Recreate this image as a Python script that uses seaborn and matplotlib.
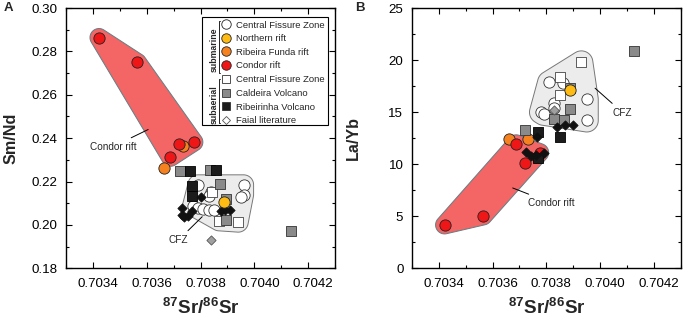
import numpy as np
import matplotlib
matplotlib.use('Agg')
import matplotlib.pyplot as plt
import seaborn as sns
from matplotlib.patches import Polygon, Rectangle
from matplotlib.lines import Line2D
from matplotlib.ticker import MultipleLocator, FormatStrFormatter
from matplotlib.transforms import ScaledTranslation

sns.set_style('ticks')
plt.rcParams['font.family'] = ['Liberation Sans', 'DejaVu Sans']
plt.rcParams['mathtext.fontset'] = 'custom'
plt.rcParams['mathtext.bf'] = 'Liberation Sans:bold'
plt.rcParams['mathtext.rm'] = 'Liberation Sans'

# ---- data ----
# submarine
red_x = [0.703422, 0.703565, 0.703688, 0.703721, 0.703775]
red_smnd = [0.2864, 0.2749, 0.2312, 0.2371, 0.2382]
red_layb = [4.17, 5.03, 11.96, 10.16, 11.12]

orange_x = [0.703663, 0.703733]
orange_smnd = [0.2263, 0.2364]
orange_layb = [12.4, 12.4]

yellow_x = [0.703886]
yellow_smnd = [0.2104]
yellow_layb = [17.15]

cfz_circ_x_a = [0.70379, 0.70396, 0.70396, 0.70395, 0.70384, 0.70383, 0.70377, 0.70379, 0.70381, 0.70383, 0.70385]
cfz_circ_smnd = [0.2185, 0.2185, 0.2140, 0.2130, 0.2150, 0.2135, 0.2088, 0.2078, 0.2072, 0.2070, 0.2070]
cfz_circ_x_b = [0.70381, 0.70386, 0.70383, 0.70378, 0.70379, 0.70395, 0.70395, 0.70383]
cfz_circ_layb = [17.85, 17.79, 15.87, 15.0, 14.84, 16.25, 14.2, 15.4]

# subaerial
cfz_sq_x_a = [0.703844, 0.703869, 0.703940]
cfz_sq_smnd = [0.2154, 0.2019, 0.2013]
cfz_sq_x_b = [0.70393, 0.70385, 0.70385]
cfz_sq_layb = [19.78, 18.33, 16.67]

cald_x_a = [0.703725, 0.703834, 0.703871, 0.703896, 0.703894, 0.704138]
cald_smnd = [0.2247, 0.2252, 0.2190, 0.2121, 0.2024, 0.1973]
cald_x_b = [0.703719, 0.703828, 0.703864, 0.703889, 0.704125, 0.703889]
cald_layb = [13.24, 14.39, 14.26, 15.32, 20.9, 17.3]

ribe_x_a = [0.703759, 0.703859, 0.703769, 0.703769]
ribe_smnd = [0.2251, 0.2252, 0.2181, 0.2132]
ribe_x_b = [0.70377, 0.703852, 0.70377]
ribe_layb = [13.14, 12.66, 10.58]

lit_x_a = [0.703731, 0.703731, 0.703740, 0.703752, 0.703769, 0.703800, 0.703875, 0.703891, 0.703910]
lit_smnd = [0.2080, 0.2046, 0.2036, 0.2042, 0.2065, 0.2128, 0.2066, 0.2070, 0.2070]
lit_x_b = [0.70384, 0.70387, 0.70390, 0.703764, 0.703726, 0.703742, 0.70376, 0.703791]
lit_layb = [13.53, 13.8, 13.8, 12.6, 11.2, 10.8, 10.9, 11.1]
litg_x_a = [0.703838]
litg_smnd = [0.1931]
litg_x_b = [0.70383]
litg_layb = [15.2]

RED = '#ee1616'
ORANGE = '#f5821f'
YELLOW = '#fdbb13'
GRAY = '#8a8a8a'
BLACK = '#1c1c1c'


def hull(pts):
    pts = sorted(map(tuple, pts))
    def cross(o, a, b):
        return (a[0] - o[0]) * (b[1] - o[1]) - (a[1] - o[1]) * (b[0] - o[0])
    lower, upper = [], []
    for p in pts:
        while len(lower) >= 2 and cross(lower[-2], lower[-1], p) <= 0:
            lower.pop()
        lower.append(p)
    for p in reversed(pts):
        while len(upper) >= 2 and cross(upper[-2], upper[-1], p) <= 0:
            upper.pop()
        upper.append(p)
    return np.array(lower[:-1] + upper[:-1])


def blob(ax, xs, ys, pad, fc, ec):
    # rounded envelope round a group of points, padded in inches
    fig = ax.figure
    pos = ax.get_position()
    W = pos.width * fig.get_figwidth()
    H = pos.height * fig.get_figheight()
    x0, x1 = ax.get_xlim()
    y0, y1 = ax.get_ylim()
    u = (np.asarray(xs) - x0) / (x1 - x0) * W
    v = (np.asarray(ys) - y0) / (y1 - y0) * H
    t = np.linspace(0, 2 * np.pi, 60, endpoint=False)
    pu = (u[:, None] + pad * np.cos(t)).ravel()
    pv = (v[:, None] + pad * np.sin(t)).ravel()
    h = hull(np.column_stack([pu, pv]))
    hx = x0 + h[:, 0] / W * (x1 - x0)
    hy = y0 + h[:, 1] / H * (y1 - y0)
    ax.add_patch(Polygon(np.column_stack([hx, hy]), closed=True, fc=fc, ec=ec, lw=0.7, zorder=1))


def settings_plot(ax):
    ax.set_xlim(0.7033, 0.7043)
    ax.xaxis.set_major_locator(MultipleLocator(0.0002))
    ax.xaxis.set_minor_locator(MultipleLocator(0.0001))
    ax.xaxis.set_major_formatter(FormatStrFormatter('%.4f'))
    ax.tick_params(which='both', direction='in', top=True, right=True, width=0.8, colors='k')
    ax.tick_params(which='major', length=4, labelsize=9.6)
    ax.tick_params(which='minor', length=2.5)
    ax.tick_params(axis='x', which='major', pad=7)
    ax.tick_params(axis='y', which='major', pad=6)
    for s in ax.spines.values():
        s.set_linewidth(1.0)
        s.set_color('k')
    ax.set_xlabel(r'$^{\mathbf{87}}\mathbf{Sr/}^{\mathbf{86}}\mathbf{Sr}$', fontsize=13.6)
    ax.xaxis.set_label_coords(0.5, -0.112)
    return ax


def pts(ax, x, y, marker, s, fc, ec, z):
    sns.scatterplot(x=x, y=y, marker=marker, s=s, color=fc, edgecolor=ec,
                    linewidth=0.6, zorder=z, legend=False, ax=ax)


def draw_points(ax, d):
    pts(ax, d['circ'][0], d['circ'][1], 'o', 66, 'white', '#333333', 3)
    pts(ax, orange_x, d['orange'], 'o', 66, ORANGE, '#222222', 4)
    pts(ax, red_x, d['red'], 'o', 66, RED, '#222222', 5)
    pts(ax, d['sq'][0], d['sq'][1], 's', 62, 'white', '#444444', 6)
    pts(ax, d['cald'][0], d['cald'][1], 's', 62, GRAY, '#333333', 7)
    pts(ax, d['ribe'][0], d['ribe'][1], 's', 62, BLACK, '#000000', 8)
    pts(ax, d['lit'][0], d['lit'][1], 'D', 22, '#111111', '#111111', 9)
    pts(ax, d['litg'][0], d['litg'][1], 'D', 22, '#a0a0a0', '#555555', 9)
    pts(ax, yellow_x, d['yellow'], 'o', 66, YELLOW, '#222222', 10)


fig = plt.figure(facecolor='white', figsize=(6.86, 3.21), dpi=100)
axA = fig.add_axes([0.0965, 0.164, 0.3918, 0.811])
axB = fig.add_axes([0.6002, 0.164, 0.3925, 0.811])

# ---------- panel A ----------
ax = settings_plot(axA)
ax.set_ylim(0.18, 0.30)
ax.yaxis.set_major_locator(MultipleLocator(0.02))
ax.yaxis.set_minor_locator(MultipleLocator(0.01))
ax.yaxis.set_major_formatter(FormatStrFormatter('%.2f'))
blob(ax, red_x, red_smnd, 0.09, '#f46565', '#5f7f85')
blob(ax, cfz_circ_x_a + cfz_sq_x_a, cfz_circ_smnd + cfz_sq_smnd, 0.1, '#ececec', '#777777')
draw_points(ax, {'circ': (cfz_circ_x_a, cfz_circ_smnd), 'orange': orange_smnd, 'red': red_smnd,
                 'sq': (cfz_sq_x_a, cfz_sq_smnd), 'cald': (cald_x_a, cald_smnd),
                 'ribe': (ribe_x_a, ribe_smnd), 'lit': (lit_x_a, lit_smnd),
                 'litg': (litg_x_a, litg_smnd), 'yellow': yellow_smnd})
ax.set_ylabel('Sm/Nd', fontsize=11.6, fontweight='bold')
ax.yaxis.set_label_coords(-0.178, 0.5)
ax.annotate('Condor rift', xy=(0.703605, 0.2440), xytext=(0.703474, 0.2361),
            ha='center', va='center', fontsize=7.2,
            arrowprops=dict(arrowstyle='-', lw=0.7, color='k', shrinkA=1, shrinkB=0))
ax.annotate('CFZ', xy=(0.703806, 0.2038), xytext=(0.703718, 0.1931),
            ha='center', va='center', fontsize=7.2,
            arrowprops=dict(arrowstyle='-', lw=0.7, color='k', shrinkA=1, shrinkB=0))

# legend (two groups with brackets)
ax.add_patch(Rectangle((0.504, 0.5505), 0.4706, 0.4138, transform=ax.transAxes,
                       fc='white', ec='k', lw=0.8, zorder=20))
h_sub = [Line2D([], [], ls='none', marker='o', ms=6.8, mfc=c, mec='#222222', mew=0.6)
         for c in ['white', YELLOW, ORANGE, RED]]
h_air = [Line2D([], [], ls='none', marker='s', ms=6.2, mfc=c, mec='#333333', mew=0.6)
         for c in ['white', GRAY, BLACK]]
h_air.append(Line2D([], [], ls='none', marker='D', ms=4.2, mfc='white', mec='#555555', mew=0.6))
leg_kw = dict(loc='upper left', frameon=False, fontsize=6.8, borderpad=0, borderaxespad=0,
              handlelength=1.0, handletextpad=0.6, labelspacing=0.48)
leg1 = ax.legend(h_sub, ['Central Fissure Zone', 'Northern rift', 'Ribeira Funda rift', 'Condor rift'],
                 bbox_to_anchor=(0.576, 0.952), **leg_kw)
leg1.set_zorder(21)
ax.add_artist(leg1)
leg2 = ax.legend(h_air, ['Central Fissure Zone', 'Caldeira Volcano', 'Ribeirinha Volcano', 'Faial literature'],
                 bbox_to_anchor=(0.576, 0.741), **leg_kw)
leg2.set_zorder(21)
ax.text(0.551, 0.838, 'submarine', rotation=90, ha='center', va='center', fontsize=6.3,
        fontweight='bold', transform=ax.transAxes, zorder=22)
ax.text(0.551, 0.628, 'subaerial', rotation=90, ha='center', va='center', fontsize=6.3,
        fontweight='bold', transform=ax.transAxes, zorder=22)
for yt, yb in [(0.950, 0.752), (0.728, 0.557)]:
    ax.plot([0.574, 0.567, 0.567, 0.574], [yt, yt, yb, yb], color='k', lw=0.6,
            transform=ax.transAxes, zorder=22, clip_on=False)

# ---------- panel B ----------
ax = settings_plot(axB)
ax.set_ylim(0, 25)
ax.yaxis.set_major_locator(MultipleLocator(5))
ax.yaxis.set_minor_locator(MultipleLocator(2.5))
ax.yaxis.set_major_formatter(FormatStrFormatter('%d'))
blob(ax, red_x, red_layb, 0.09, '#f46565', '#5f7f85')
blob(ax, cfz_circ_x_b + cfz_sq_x_b, cfz_circ_layb + cfz_sq_layb, 0.115, '#ececec', '#777777')
draw_points(ax, {'circ': (cfz_circ_x_b, cfz_circ_layb), 'orange': orange_layb, 'red': red_layb,
                 'sq': (cfz_sq_x_b, cfz_sq_layb), 'cald': (cald_x_b, cald_layb),
                 'ribe': (ribe_x_b, ribe_layb), 'lit': (lit_x_b, lit_layb),
                 'litg': (litg_x_b, litg_layb), 'yellow': yellow_layb})
ax.set_ylabel('La/Yb', fontsize=11.6, fontweight='bold')
ax.yaxis.set_label_coords(-0.188, 0.5)
ax.annotate('Condor rift', xy=(0.703675, 7.72), xytext=(0.703818, 6.28),
            ha='center', va='center', fontsize=7.2,
            arrowprops=dict(arrowstyle='-', lw=0.7, color='k', shrinkA=1, shrinkB=0))
ax.annotate('CFZ', xy=(0.703981, 17.3), xytext=(0.704083, 14.96),
            ha='center', va='center', fontsize=7.2,
            arrowprops=dict(arrowstyle='-', lw=0.7, color='k', shrinkA=1, shrinkB=0))

# x tick labels sit a little right of their ticks in the original
for a in (axA, axB):
    for lab in a.get_xticklabels():
        lab.set_transform(lab.get_transform() + ScaledTranslation(5 / 100, 0, fig.dpi_scale_trans))

fig.text(4 / 686, 1 - 2 / 321, 'A', fontsize=9.5, fontweight='bold', ha='left', va='top')
fig.text(355 / 686, 1 - 2 / 321, 'B', fontsize=9.5, fontweight='bold', ha='left', va='top')

plt.savefig('out.png', dpi=100, facecolor='white')
